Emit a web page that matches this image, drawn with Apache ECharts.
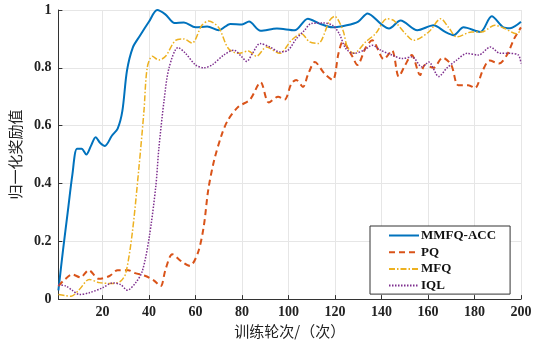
<!DOCTYPE html>
<html>
<head>
<meta charset="utf-8">
<script src="https://cdn.jsdelivr.net/npm/echarts@6/dist/echarts.min.js"></script>
<style>
    html, body { margin: 0; padding: 0; background: #fff; }
    #chartContainer { width: 538px; height: 344px; }
</style>
</head>
<body>
<div id="chartContainer"></div>
<script>
// values
const seriesNames = ['MMFQ-ACC', 'PQ', 'MFQ', 'IQL'];
const xTicks = [20, 40, 60, 80, 100, 120, 140, 160, 180, 200];

const accX = [1, 3, 5, 7, 9, 11, 13, 15, 17, 19, 21, 24, 26.5, 28.5, 30.5, 33, 36, 40, 43.5, 47, 51, 55, 60, 65, 70, 75, 80, 83, 88, 95, 102.6, 108.3, 113.3, 119, 125, 130, 134, 140, 143.2, 148.2, 155.4, 162.4, 167.4, 171, 175.3, 182.5, 187.4, 192.4, 195.3, 200];
const accY = [0.03, 0.17, 0.30, 0.43, 0.52, 0.52, 0.50, 0.53, 0.56, 0.54, 0.53, 0.565, 0.59, 0.65, 0.79, 0.87, 0.91, 0.96, 1.0, 0.985, 0.955, 0.957, 0.94, 0.943, 0.93, 0.952, 0.95, 0.96, 0.928, 0.936, 0.93, 0.97, 0.953, 0.94, 0.947, 0.96, 0.988, 0.95, 0.936, 0.964, 0.93, 0.947, 0.924, 0.913, 0.94, 0.924, 0.978, 0.94, 0.937, 0.959];

const pqX = [1, 4, 7, 10.5, 14, 18.5, 23, 26.5, 31, 34, 38.5, 42, 45, 47, 50, 54, 57.5, 61, 63.5, 65.5, 68, 71.3, 74, 78.4, 83.4, 88, 91.5, 95.5, 98.3, 101.2, 103.3, 106.2, 108.3, 111.3, 115.5, 119, 121.5, 123.3, 127.4, 129.6, 133.2, 136, 141, 144.5, 147.4, 150.2, 153, 156.6, 158.7, 162.3, 166.3, 170, 173, 177.3, 180.2, 183.5, 186.5, 190.5, 194, 197, 200];
const pqY = [0.045, 0.07, 0.085, 0.075, 0.10, 0.07, 0.08, 0.10, 0.10, 0.09, 0.08, 0.065, 0.045, 0.10, 0.155, 0.13, 0.115, 0.16, 0.25, 0.38, 0.48, 0.57, 0.62, 0.665, 0.69, 0.75, 0.68, 0.70, 0.69, 0.745, 0.758, 0.734, 0.775, 0.82, 0.78, 0.758, 0.85, 0.89, 0.84, 0.81, 0.87, 0.895, 0.83, 0.86, 0.77, 0.81, 0.844, 0.775, 0.81, 0.80, 0.835, 0.81, 0.74, 0.74, 0.73, 0.79, 0.825, 0.815, 0.845, 0.90, 0.94];

const mfqX = [1, 4, 6.5, 10, 14.3, 18.6, 24.4, 27.8, 30, 32.8, 35.7, 37.8, 39.2, 41.4, 44.2, 47.1, 51.4, 54.9, 58.5, 62.7, 65.6, 69.9, 74.1, 78.4, 82.7, 86.2, 90.5, 96.2, 101.2, 105.5, 109, 112.7, 117.7, 119.8, 123.4, 125.3, 128.1, 133.2, 137.4, 142.4, 145.2, 150.3, 153.8, 160.3, 165.5, 168.8, 172.4, 178.8, 183, 188.8, 193, 198, 200];
const mfqY = [0.016, 0.012, 0.01, 0.033, 0.068, 0.057, 0.054, 0.062, 0.09, 0.23, 0.46, 0.65, 0.80, 0.84, 0.827, 0.84, 0.895, 0.90, 0.886, 0.947, 0.962, 0.94, 0.867, 0.85, 0.858, 0.84, 0.872, 0.85, 0.895, 0.918, 0.89, 0.884, 0.964, 0.978, 0.93, 0.872, 0.85, 0.89, 0.918, 0.97, 0.964, 0.918, 0.895, 0.924, 0.97, 0.94, 0.907, 0.924, 0.924, 0.947, 0.936, 0.918, 0.93];

const iqlX = [1, 4.3, 7, 10, 14.3, 20, 24.3, 27.8, 30.7, 34.2, 37.1, 40, 42.9, 44.2, 46.5, 48.6, 52.5, 55.7, 60, 63.6, 67.1, 72.1, 76.4, 79.9, 82, 84.5, 87.7, 92, 96.2, 99.8, 103.3, 106.9, 109.7, 114.7, 119, 121.8, 124.7, 128.2, 132.5, 136, 139.6, 144.6, 148.9, 153.1, 157.4, 160.3, 164.6, 168.2, 172.4, 176.8, 181.7, 186.8, 191, 195.3, 198.9, 200];
const iqlY = [0.05, 0.045, 0.03, 0.016, 0.022, 0.039, 0.056, 0.05, 0.031, 0.056, 0.097, 0.21, 0.39, 0.52, 0.69, 0.80, 0.87, 0.85, 0.81, 0.80, 0.81, 0.844, 0.861, 0.838, 0.822, 0.85, 0.884, 0.872, 0.855, 0.861, 0.90, 0.93, 0.953, 0.955, 0.947, 0.918, 0.866, 0.85, 0.861, 0.878, 0.861, 0.844, 0.832, 0.838, 0.803, 0.82, 0.77, 0.80, 0.827, 0.85, 0.844, 0.872, 0.85, 0.85, 0.844, 0.815];

function pairs(xs, ys) {
    return xs.map((x, i) => [x, ys[i]]);
}

function makeSeries(name, xs, ys, color, width, dash) {
    return {
        name: name,
        type: 'line',
        data: pairs(xs, ys),
        smooth: 0.3,
        symbol: 'none',
        lineStyle: { color: color, width: width, type: dash },
        itemStyle: { color: color }
    };
}

const labelFont = { fontFamily: 'Liberation Serif', fontWeight: 'bold', fontSize: 14, color: '#222' };
const cjkFont = { fontFamily: 'Noto Sans CJK SC', fontSize: 15, color: '#222' };

const myChart = echarts.init(document.getElementById('chartContainer'));

const option = {
    animation: false,
    grid: { left: 56, right: 17, top: 10, bottom: 44 },
    xAxis: {
        type: 'value',
        min: 1,
        max: 200,
        name: '训练轮次/（次）',
        nameLocation: 'middle',
        nameGap: 20,
        nameTextStyle: cjkFont,
        axisLine: { lineStyle: { color: '#333', width: 1 } },
        axisTick: { inside: true, length: 4, customValues: xTicks, lineStyle: { color: '#333' } },
        axisLabel: Object.assign({ customValues: xTicks, margin: 6 }, labelFont),
        splitLine: { show: true, lineStyle: { color: '#e6e6e6', width: 1 } }
    },
    yAxis: {
        type: 'value',
        min: 0,
        max: 1,
        interval: 0.2,
        name: '归一化奖励值',
        nameLocation: 'middle',
        nameGap: 33,
        nameRotate: 90,
        nameTextStyle: cjkFont,
        axisLine: { show: true, lineStyle: { color: '#333', width: 1 } },
        axisTick: { show: true, inside: true, length: 4, lineStyle: { color: '#333' } },
        axisLabel: Object.assign({ margin: 7 }, labelFont),
        splitLine: { show: true, lineStyle: { color: '#e6e6e6', width: 1 } }
    },
    legend: {
        orient: 'vertical',
        left: 370,
        top: 226,
        data: seriesNames,
        itemWidth: 30,
        itemHeight: 13,
        itemGap: 3.7,
        padding: [3, 14, 2, 18],
        backgroundColor: '#fff',
        borderColor: '#333',
        borderWidth: 1,
        borderRadius: 0,
        // hide the marker, keep only the line sample
        itemStyle: { color: 'rgba(0,0,0,0)', borderWidth: 0 },
        textStyle: { fontFamily: 'Liberation Serif', fontWeight: 'bold', fontSize: 13, color: '#111', padding: [0, 0, 0, -3] }
    },
    series: [
        makeSeries('MMFQ-ACC', accX, accY, '#0072BD', 2, 'solid'),
        makeSeries('PQ', pqX, pqY, '#D95319', 2, [6, 4]),
        makeSeries('MFQ', mfqX, mfqY, '#EDB120', 1.5, [6, 2, 1.5, 2]),
        makeSeries('IQL', iqlX, iqlY, '#7E2F8E', 1.5, [1.5, 1.5])
    ]
};

myChart.setOption(option);
</script>
</body>
</html>
